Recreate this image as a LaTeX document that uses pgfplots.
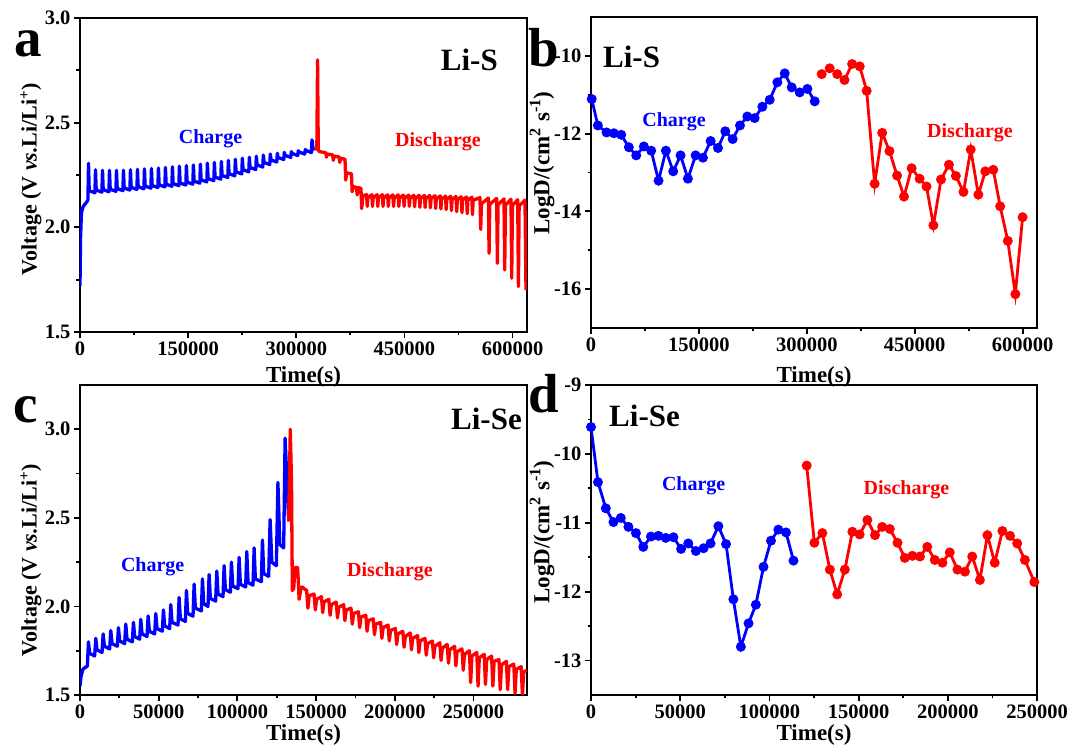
\documentclass[border=0pt]{standalone}
\usepackage{fontspec}
\setmainfont{Liberation Serif}
\usepackage{pgfplots}
\pgfplotsset{compat=1.18}

\pgfplotsset{
  panel/.style={
    scale only axis, anchor=south west,
    scaled x ticks=false, scaled y ticks=false,
    axis line style={line width=2.3pt},
    tick align=outside, xtick pos=lower, ytick pos=left,
    major tick length=6pt, minor tick length=3.5pt,
    every tick/.append style={black, line width=1.8pt},
    minor x tick num=1, minor y tick num=1,
    tick label style={font=\fontsize{20.5}{24}\selectfont\bfseries},
  },
  gitt/.style={line width=3.3pt, line join=round},
  dots/.style={line width=2.8pt, mark=*, mark size=3.5pt},
}
\newcommand{\lbl}{\fontsize{23}{27}\selectfont\bfseries}
\newcommand{\vlbl}{\fontsize{22}{26}\selectfont\bfseries}
\newcommand{\tag}{\fontsize{20}{24}\selectfont\bfseries}
\newcommand{\sys}{\fontsize{31}{36}\selectfont\bfseries}
\newcommand{\pan}{\fontsize{55}{60}\selectfont\bfseries}

\begin{document}
\begin{tikzpicture}
\path[use as bounding box] (0,0) rectangle (1072pt,751pt);

% a: Li-S voltage
\begin{axis}[panel, at={(80pt,419pt)}, width=447pt, height=314pt,
  xmin=0, xmax=620000, ymin=1.5, ymax=3.0,
  xtick={0,150000,300000,450000,600000},
  xticklabels={0,150000,300000,450000,600000},
  ytick={1.5,2.0,2.5,3.0}, yticklabels={1.5,2.0,2.5,3.0}]
\addplot[blue, gitt] coordinates {
(0,1.72) (800,1.95) (2000,2.07) (4500,2.10) (8000,2.115) (11000,2.13) (11800,2.306) (12800,2.175)
(20700,2.165) (21500,2.275) (22500,2.178)
(30400,2.168) (31200,2.272) (32200,2.18)
(40100,2.170) (40900,2.272) (41900,2.182)
(49800,2.172) (50600,2.272) (51600,2.185)
(59500,2.175) (60300,2.273) (61300,2.188)
(69200,2.178) (70000,2.275) (71000,2.191)
(78900,2.181) (79700,2.277) (80700,2.194)
(88600,2.184) (89400,2.279) (90400,2.197)
(98300,2.187) (99100,2.281) (100100,2.200)
(108000,2.190) (108800,2.283) (109800,2.203)
(117700,2.193) (118500,2.286) (119500,2.206)
(127400,2.196) (128200,2.289) (129200,2.209)
(137100,2.199) (137900,2.292) (138900,2.212)
(146800,2.202) (147600,2.295) (148600,2.216)
(156500,2.206) (157300,2.298) (158300,2.221)
(166200,2.211) (167000,2.302) (168000,2.227)
(175900,2.217) (176700,2.306) (177700,2.233)
(185600,2.223) (186400,2.310) (187400,2.240)
(195300,2.230) (196100,2.315) (197100,2.248)
(205000,2.238) (205800,2.320) (206800,2.256)
(214700,2.246) (215500,2.325) (216500,2.265)
(224400,2.255) (225200,2.330) (226200,2.275)
(234100,2.265) (234900,2.335) (235900,2.286)
(243800,2.276) (244600,2.340) (245600,2.298)
(253500,2.288) (254300,2.345) (255300,2.310)
(263200,2.300) (264000,2.350) (265000,2.322)
(272900,2.312) (273700,2.354) (274700,2.334)
(282600,2.324) (283400,2.358) (284400,2.344)
(292300,2.334) (293100,2.362) (294100,2.353)
(302000,2.343) (302800,2.366) (303800,2.360)
(311700,2.350) (312500,2.372) (313500,2.367)
(321000,2.357) (321800,2.418) (323000,2.380) (326000,2.370)
};
\addplot[red, gitt] coordinates {
(326000,2.370) (328500,2.380) (329500,2.800) (330500,2.370) (332000,2.362)
(341000,2.356) (341800,2.335) (343000,2.350)
(350500,2.346) (351300,2.320) (352500,2.340)
(359500,2.336) (360300,2.310) (361500,2.330)
(367600,2.325) (368500,2.226) (370000,2.260)
(376500,2.256) (377500,2.170) (379000,2.195)
(383500,2.190) (384500,2.155) (386000,2.190)
(389700,2.186) (390700,2.090) (392500,2.150)
(397500,2.156) (398400,2.100) (399300,2.141)
(404800,2.156) (405700,2.100) (406600,2.141)
(412100,2.156) (413000,2.100) (413900,2.141)
(419400,2.156) (420300,2.100) (421200,2.141)
(426700,2.155) (427600,2.100) (428500,2.140)
(434000,2.155) (434900,2.100) (435800,2.140)
(441300,2.155) (442200,2.100) (443100,2.140)
(448600,2.154) (449500,2.100) (450400,2.139)
(455900,2.154) (456800,2.100) (457700,2.139)
(463200,2.153) (464100,2.098) (465000,2.138)
(470500,2.153) (471400,2.096) (472300,2.138)
(477800,2.152) (478700,2.095) (479600,2.137)
(485100,2.152) (486000,2.093) (486900,2.137)
(492400,2.151) (493300,2.090) (494200,2.136)
(499700,2.150) (500600,2.088) (501500,2.135)
(507000,2.149) (507900,2.085) (508800,2.134)
(514300,2.148) (515200,2.080) (516100,2.133)
(521600,2.147) (522500,2.075) (523400,2.132)
(528900,2.146) (529800,2.070) (530700,2.131)
(536200,2.145) (537100,2.065) (538000,2.130)
(543500,2.144) (544400,2.060) (545300,2.129)
(554800,2.142) (555800,1.990) (556800,2.112)
(566400,2.140) (567400,1.876) (568400,2.110)
(577900,2.138) (578900,1.828) (579900,2.108)
(588100,2.136) (589100,1.796) (590100,2.106)
(597800,2.134) (598800,1.757) (599800,2.104)
(607100,2.132) (608100,1.717) (609100,2.102)
(617200,2.130) (618600,1.700)
};
\end{axis}

% b: Li-S LogD
\begin{axis}[panel, at={(591pt,423pt)}, width=446pt, height=311pt,
  xmin=0, xmax=620000, ymin=-17, ymax=-9,
  xtick={0,150000,300000,450000,600000},
  xticklabels={0,150000,300000,450000,600000},
  ytick={-16,-14,-12,-10}, yticklabels={-16,-14,-12,-10}]
\addplot[blue, dots] coordinates {
(1000,-11.11) (9500,-11.79) (21600,-11.97) (31800,-11.99) (42000,-12.03) (52600,-12.35)
(62900,-12.56) (73500,-12.33) (83700,-12.44) (93900,-13.21) (104100,-12.44) (114300,-12.97)
(124500,-12.56) (134700,-13.16) (145400,-12.56) (155600,-12.62) (166300,-12.19) (176500,-12.37)
(186700,-11.94) (196900,-12.14) (207100,-11.79) (217300,-11.56) (227500,-11.60) (238200,-11.31)
(248400,-11.13) (259100,-10.68) (269300,-10.45) (279000,-10.81) (290100,-10.94) (300800,-10.85)
(311000,-11.17)
};
\addplot[red, dots, only marks] coordinates {
(320700,-10.47) (331800,-10.32) (342300,-10.47)
};
\addplot[red, dots] coordinates {
(352400,-10.62) (363000,-10.21) (373600,-10.27) (383200,-10.90) (394300,-13.29) (404800,-11.98)
(414900,-12.45) (425500,-13.08) (435100,-13.62) (445700,-12.89) (456800,-13.16) (466400,-13.36)
(476000,-14.36) (486600,-13.18) (497600,-12.80) (507200,-13.09) (517800,-13.50) (527900,-12.41)
(538500,-13.57) (548100,-12.97) (559200,-12.93) (568800,-13.87) (579400,-14.76) (589900,-16.13)
(600000,-14.15)
};
\end{axis}

% c: Li-Se voltage
\begin{axis}[panel, at={(80pt,56pt)}, width=447pt, height=310pt,
  xmin=0, xmax=284000, ymin=1.5, ymax=3.25,
  xtick={0,50000,100000,150000,200000,250000},
  xticklabels={0,50000,100000,150000,200000,250000},
  ytick={1.5,2.0,2.5,3.0}, yticklabels={1.5,2.0,2.5,3.0}]
\addplot[blue, gitt] coordinates {
(0,1.55) (600,1.60) (1800,1.645) (4000,1.66)
(4660,1.660) (5360,1.800) (6160,1.735)
(9320,1.720) (10020,1.820) (10820,1.755)
(14000,1.740) (14700,1.845) (15500,1.775)
(18850,1.760) (19550,1.864) (20350,1.790)
(23720,1.775) (24420,1.880) (25220,1.805)
(28380,1.790) (29080,1.900) (29880,1.815)
(33250,1.800) (33950,1.910) (34750,1.830)
(37910,1.815) (38610,1.927) (39410,1.845)
(42570,1.830) (43270,1.946) (44070,1.860)
(47440,1.845) (48140,1.960) (48940,1.875)
(52310,1.860) (53010,1.980) (53810,1.890)
(56970,1.875) (57670,2.010) (58470,1.910)
(62270,1.895) (62970,2.050) (63770,1.930)
(66930,1.915) (67630,2.090) (68430,1.960)
(71800,1.945) (72500,2.126) (73300,1.990)
(77100,1.975) (77800,2.155) (78600,2.015)
(81330,2.000) (82030,2.180) (82830,2.045)
(86200,2.030) (86900,2.200) (87700,2.070)
(90860,2.055) (91560,2.230) (92360,2.095)
(95520,2.080) (96220,2.250) (97020,2.115)
(100390,2.100) (101090,2.277) (101890,2.125)
(105260,2.110) (105960,2.310) (106760,2.135)
(109920,2.120) (110620,2.330) (111420,2.155)
(115220,2.140) (115920,2.375) (116720,2.185)
(119880,2.170) (120780,2.490) (121880,2.250)
(124750,2.230) (125750,2.700) (126950,2.350)
(129410,2.330) (130310,2.950) (132600,2.480)
};
\addplot[red, gitt] coordinates {
(132600,2.480) (133600,3.000) (134400,2.700) (134900,2.090) (135800,2.100) (136600,2.220)
(138300,2.220) (139200,2.040) (140300,2.100) (141100,2.110) (143200,2.095)
(144000,2.090) (144800,1.990) (145600,2.060)
(148700,2.070) (149500,1.980) (150300,2.040)
(153400,2.055) (154200,1.965) (155000,2.025)
(158100,2.040) (158900,1.950) (159700,2.010)
(162800,2.025) (163600,1.935) (164400,1.995)
(167500,2.010) (168300,1.920) (169100,1.980)
(172200,1.990) (173000,1.900) (173800,1.960)
(176900,1.970) (177700,1.880) (178500,1.940)
(181600,1.950) (182400,1.860) (183200,1.920)
(186300,1.930) (187100,1.840) (187900,1.900)
(191000,1.910) (191800,1.820) (192600,1.880)
(195700,1.895) (196500,1.805) (197300,1.865)
(200400,1.875) (201200,1.785) (202000,1.845)
(205100,1.860) (205900,1.770) (206700,1.830)
(209800,1.850) (210600,1.755) (211400,1.820)
(214500,1.835) (215300,1.740) (216100,1.805)
(219200,1.820) (220000,1.725) (220800,1.790)
(223900,1.805) (224700,1.710) (225500,1.775)
(228600,1.795) (229400,1.695) (230200,1.765)
(233300,1.785) (234100,1.680) (234900,1.755)
(238000,1.775) (238800,1.665) (239600,1.745)
(242700,1.760) (243500,1.640) (244300,1.730)
(247400,1.750) (248200,1.570) (249000,1.720)
(252100,1.740) (252900,1.550) (253700,1.710)
(256800,1.730) (257600,1.560) (258400,1.700)
(261500,1.720) (262300,1.550) (263100,1.690)
(266200,1.700) (267000,1.530) (267800,1.670)
(270900,1.690) (271700,1.530) (272500,1.660)
(275600,1.675) (276400,1.510) (277200,1.645)
(280300,1.660) (281100,1.500) (281900,1.630)
(284000,1.640)
};
\end{axis}

% d: Li-Se LogD
\begin{axis}[panel, at={(591pt,56pt)}, width=446pt, height=310pt,
  xmin=0, xmax=250000, ymin=-13.5, ymax=-9,
  xtick={0,50000,100000,150000,200000,250000},
  xticklabels={0,50000,100000,150000,200000,250000},
  ytick={-13,-12,-11,-10,-9}, yticklabels={-13,-12,-11,-10,-9}]
\addplot[blue, dots] coordinates {
(0,-9.61) (3900,-10.41) (8300,-10.79) (12600,-10.99) (16700,-10.93) (21000,-11.06)
(25200,-11.15) (29300,-11.35) (33600,-11.20) (37800,-11.19) (41900,-11.22) (46200,-11.21)
(50500,-11.38) (54500,-11.30) (58800,-11.41) (63100,-11.37) (67000,-11.30) (71400,-11.05)
(75700,-11.31) (79800,-12.11) (84000,-12.80) (88300,-12.46) (92400,-12.19) (96700,-11.64)
(100900,-11.26) (105000,-11.10) (109300,-11.14) (113500,-11.55)
};
\addplot[red, dots] coordinates {
(120900,-10.17) (125200,-11.29) (129700,-11.15) (133900,-11.68) (138000,-12.04) (142300,-11.68)
(146500,-11.13) (150600,-11.17) (154900,-10.96) (159200,-11.18) (163200,-11.06) (167500,-11.09)
(171800,-11.29) (175900,-11.51) (180100,-11.48) (184400,-11.49) (188500,-11.35) (192700,-11.54)
(197000,-11.58) (201100,-11.43) (205400,-11.68) (209600,-11.71) (213700,-11.49) (218000,-11.83)
(222200,-11.18) (226300,-11.58) (230600,-11.12) (234900,-11.19) (238900,-11.30) (243200,-11.54)
(248500,-11.86)
};
\end{axis}

% panel letters
\node[anchor=base west, inner sep=0pt] at (14pt,694pt) {\pan a};
\node[anchor=base west, inner sep=0pt] at (528pt,684pt) {\pan b};
\node[anchor=base west, inner sep=0pt] at (13pt,328pt) {\pan c};
\node[anchor=base west, inner sep=0pt] at (528pt,338pt) {\pan d};
% system names
\node[anchor=base east, inner sep=0pt] at (498pt,680pt) {\sys Li-S};
\node[anchor=base west, inner sep=0pt] at (603pt,683pt) {\sys Li-S};
\node[anchor=base east, inner sep=0pt] at (522pt,321pt) {\sys Li-Se};
\node[anchor=base west, inner sep=0pt] at (609pt,324pt) {\sys Li-Se};
% charge / discharge tags
\node[anchor=base, inner sep=0pt, text=blue] at (210.5pt,607.7pt) {\tag Charge};
\node[anchor=base, inner sep=0pt, text=red] at (438pt,604.3pt) {\tag Discharge};
\node[anchor=base, inner sep=0pt, text=blue] at (674pt,624.3pt) {\tag Charge};
\node[anchor=base, inner sep=0pt, text=red] at (970pt,613.7pt) {\tag Discharge};
\node[anchor=base, inner sep=0pt, text=blue] at (152.7pt,179.3pt) {\tag Charge};
\node[anchor=base, inner sep=0pt, text=red] at (390pt,174.3pt) {\tag Discharge};
\node[anchor=base, inner sep=0pt, text=blue] at (693.7pt,260.3pt) {\tag Charge};
\node[anchor=base, inner sep=0pt, text=red] at (906.5pt,256pt) {\tag Discharge};
% axis labels
\node[anchor=base, inner sep=0pt] at (303.5pt,368pt) {\lbl Time(s)};
\node[anchor=base, inner sep=0pt] at (814pt,368pt) {\lbl Time(s)};
\node[anchor=base, inner sep=0pt] at (303.5pt,10pt) {\lbl Time(s)};
\node[anchor=base, inner sep=0pt] at (814pt,10pt) {\lbl Time(s)};
\node[rotate=90, inner sep=0pt] at (31pt,572pt) {\vlbl Voltage (V \textit{vs.}Li/Li\textsuperscript{+})};
\node[rotate=90, inner sep=0pt] at (31pt,191pt) {\vlbl Voltage (V \textit{vs.}Li/Li\textsuperscript{+})};
\node[rotate=90, inner sep=0pt] at (542pt,588pt) {\lbl LogD/(cm\textsuperscript{2} s\textsuperscript{-1})};
\node[rotate=90, inner sep=0pt] at (542pt,219pt) {\lbl LogD/(cm\textsuperscript{2} s\textsuperscript{-1})};
\end{tikzpicture}
\end{document}
